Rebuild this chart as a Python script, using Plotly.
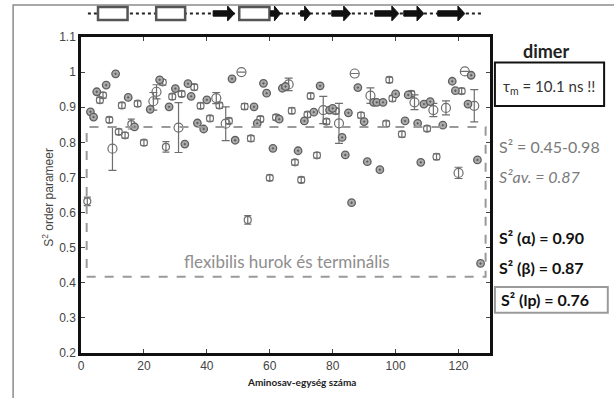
import plotly.graph_objects as go

# ---- data ----
dot_res = [3, 4, 5, 8, 11, 15, 17, 22, 25, 28, 30, 33, 34, 35, 37, 39, 40, 48, 49, 55, 56, 58, 59, 61, 63, 64, 65,
           69, 71, 74, 76, 79, 80, 83, 84, 85, 86, 88, 90, 91, 93, 94, 95, 96, 100, 103, 104, 107, 108, 109, 111,
           115, 118, 119, 123, 124, 126, 127]
dot_s2 = [0.887, 0.872, 0.944, 0.963, 0.995, 0.928, 0.844, 0.894, 0.978, 0.901, 0.953, 0.795, 0.967, 0.931, 0.855,
          0.838, 0.921, 0.981, 0.806, 0.901, 0.854, 0.968, 0.940, 0.783, 0.866, 0.954, 0.959, 0.776, 0.861, 0.886,
          0.961, 0.892, 0.897, 0.814, 0.764, 0.884, 0.628, 0.956, 0.859, 0.745, 0.914, 0.914, 0.722, 0.914, 0.938,
          0.861, 0.935, 0.854, 0.743, 0.909, 0.916, 0.849, 0.974, 0.947, 0.909, 0.991, 0.750, 0.455]

box_res = [2, 6, 7, 9, 12, 13, 14, 16, 18, 20, 26, 27, 29, 32, 36, 38, 41, 44, 47, 52, 53, 54, 57, 60, 62, 67, 68,
           70, 72, 73, 75, 78, 81, 89, 97, 98, 99, 102, 105, 110, 113, 121]
box_s2 = [0.632, 0.920, 0.934, 0.864, 0.830, 0.905, 0.820, 0.852, 0.910, 0.799, 0.971, 0.787, 0.930, 0.938, 0.957,
          0.904, 0.868, 0.905, 0.861, 0.902, 0.579, 0.811, 0.866, 0.699, 0.871, 0.890, 0.743, 0.693, 0.879, 0.932,
          0.763, 0.859, 0.889, 0.877, 0.853, 0.978, 0.925, 0.823, 0.938, 0.839, 0.759, 0.946]
box_err = [0.012, 0.008, 0.008, 0.008, 0.008, 0.008, 0.008, 0.014, 0.008, 0.008, 0.008, 0.015, 0.008, 0.008, 0.008,
           0.008, 0.008, 0.008, 0.008, 0.008, 0.012, 0.008, 0.008, 0.008, 0.008, 0.008, 0.008, 0.008, 0.008, 0.008,
           0.008, 0.008, 0.008, 0.008, 0.008, 0.008, 0.008, 0.008, 0.008, 0.008, 0.008, 0.008]

err_res = [10, 23, 24, 31, 43, 46, 51, 66, 77, 82, 87, 92, 106, 112, 116, 120, 122, 125]
err_s2 = [0.782, 0.917, 0.944, 0.842, 0.926, 0.853, 1.000, 0.965, 0.892, 0.854, 0.996, 0.933, 0.914, 0.892, 0.898,
          0.713, 1.002, 0.904]
err_val = [0.062, 0.025, 0.020, 0.071, 0.016, 0.048, 0.0, 0.018, 0.039, 0.057, 0.0, 0.022, 0.021, 0.019, 0.020,
           0.016, 0.0, 0.046]

# secondary structure (residue ranges)
helix_start = [5.4, 23.9, 50.3]
helix_end = [14.8, 33.1, 59.9]
strand_start = [42.0, 60.2, 69.8, 79.7, 93.4, 102.6, 113.4]
strand_end = [48.8, 63.4, 73.0, 85.7, 101.0, 109.0, 122.0]
coil_start, coil_end = 2.2, 127.8

# flexible region box
flex_x0, flex_x1, flex_y0, flex_y1 = 1.8, 128.6, 0.417, 0.844

x_ticks = [0, 20, 40, 60, 80, 100, 120]
y_ticks = [0.2, 0.3, 0.4, 0.5, 0.6, 0.7, 0.8, 0.9, 1.0, 1.1]
y_tick_text = ["0.2", "0.3", "0.4", "0.5", "0.6", "0.7", "0.8", "0.9", "1", "1.1"]

GRAY = "#6e6e6e"

fig = go.Figure()
fig.add_trace(go.Scatter(
    x=box_res, y=box_s2, mode="markers",
    marker=dict(symbol="circle-open", size=7, color=GRAY, line=dict(width=1.2, color=GRAY)),
    error_y=dict(type="data", array=box_err, color=GRAY, thickness=1.2, width=3.5),
    showlegend=False))
fig.add_trace(go.Scatter(
    x=err_res, y=err_s2, mode="markers",
    marker=dict(symbol="circle-open", size=9, color=GRAY, line=dict(width=1.2, color=GRAY)),
    error_y=dict(type="data", array=err_val, color=GRAY, thickness=1.2, width=4),
    showlegend=False))
fig.add_trace(go.Scatter(
    x=dot_res, y=dot_s2, mode="markers",
    marker=dict(symbol="circle-dot", size=7.5, color="#ababab", line=dict(width=1.3, color="#5e5e5e")),
    showlegend=False))

shapes = []
# frame around figure
shapes.append(dict(type="rect", xref="paper", yref="paper", x0=-0.166, x1=1.32, y0=-0.17, y1=1.101,
                   line=dict(color="#8c8c8c", width=1.5), layer="below"))
# flexible region
shapes.append(dict(type="rect", xref="x", yref="y", x0=flex_x0, x1=flex_x1, y0=flex_y0, y1=flex_y1,
                   line=dict(color="#9a9a9a", width=2, dash="dash")))
# coil dotted line
ymid = 1.074
shapes.append(dict(type="line", xref="x", yref="paper", x0=coil_start, x1=coil_end, y0=ymid, y1=ymid,
                   line=dict(color="#222", width=2, dash="dot")))
for a, b in zip(helix_start, helix_end):
    shapes.append(dict(type="rect", xref="x", yref="paper", x0=a, x1=b, y0=1.054, y1=1.095,
                       fillcolor="white", line=dict(color="#555", width=2.5)))
for a, b in zip(strand_start, strand_end):
    head = min(2.2, (b - a) * 0.6)
    path = (f"M {a},1.066 L {b-head},1.066 L {b-head},1.051 L {b},1.074 L {b-head},1.098 "
            f"L {b-head},1.083 L {a},1.083 Z")
    shapes.append(dict(type="path", xref="x", yref="paper", path=path, fillcolor="#111",
                       line=dict(color="#111", width=1)))
# boxes on right
shapes.append(dict(type="rect", xref="paper", yref="paper", x0=1.012, x1=1.279, y0=0.782, y1=0.919,
                   line=dict(color="#111", width=2)))
shapes.append(dict(type="rect", xref="paper", yref="paper", x0=1.012, x1=1.288, y0=0.127, y1=0.209,
                   line=dict(color="#9a9a9a", width=2)))

TXT = "Lato"
ann = [
    dict(text="flexibilis hurok és terminális", x=65.5, y=0.46, xref="x", yref="y",
         font=dict(family=TXT, size=17, color="#8e8e8e")),
    dict(text="<b>dimer</b>", x=1.137, y=0.957, font=dict(family=TXT, size=18, color="#222")),
    dict(text="τ<sub>m</sub> = 10.1 ns !!", x=1.145, y=0.842, font=dict(family=TXT, size=15, color="#333")),
    dict(text="S² = 0.45-0.98", x=1.017, y=0.653, xanchor="left", font=dict(family=TXT, size=16, color="#7a7a7a")),
    dict(text="<i>S²av. = 0.87</i>", x=1.017, y=0.557, xanchor="left", font=dict(family=TXT, size=16, color="#7a7a7a")),
    dict(text="<b>S² (α) = 0.90</b>", x=1.017, y=0.364, xanchor="left", font=dict(family=TXT, size=16, color="#111")),
    dict(text="<b>S² (β) = 0.87</b>", x=1.017, y=0.269, xanchor="left", font=dict(family=TXT, size=16, color="#111")),
    dict(text="<b>S² (lp) = 0.76</b>", x=1.022, y=0.168, xanchor="left", font=dict(family=TXT, size=16, color="#111")),
    dict(text="<b>Aminosav-egység száma</b>", x=0.54, y=-0.092, font=dict(family=TXT, size=10, color="#222")),
    dict(text="S<sup>2</sup> order parameer", x=-0.081, y=0.494, textangle=-90,
         font=dict(family="Liberation Sans", size=12, color="#444")),
]
for a in ann:
    a.setdefault("xref", "paper")
    a.setdefault("yref", "paper")
    a.setdefault("xanchor", "center")
    a.setdefault("yanchor", "middle")
    a.setdefault("showarrow", False)

fig.update_layout(
    width=614, height=398, margin=dict(l=81, r=124, t=37, b=45),
    paper_bgcolor="white", plot_bgcolor="white",
    shapes=shapes, annotations=ann,
    font=dict(family="Liberation Sans", size=12, color="#444"),
    xaxis=dict(range=[0, 130], tickvals=x_ticks, ticks="inside", ticklen=4, tickcolor="#444",
               showline=True, linecolor="#111", linewidth=2.5, mirror="ticks", showgrid=False, zeroline=False,
               tickfont=dict(size=12, color="#444")),
    yaxis=dict(range=[0.2, 1.1], tickvals=y_ticks, ticktext=y_tick_text, ticks="inside", ticklen=4, tickcolor="#444",
               showline=True, linecolor="#111", linewidth=2.5, mirror="ticks", showgrid=False, zeroline=False,
               tickfont=dict(size=12, color="#444")),
)
fig.write_html("out.html")
